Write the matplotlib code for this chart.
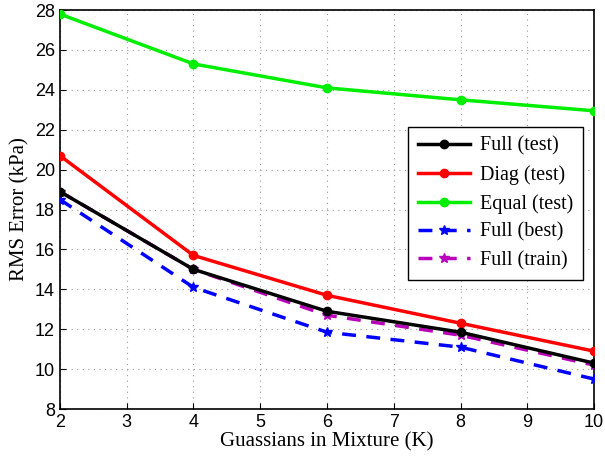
import matplotlib
matplotlib.use("Agg")
import matplotlib.pyplot as plt

K = [2, 4, 6, 8, 10]
full_test = [18.9, 15.0, 12.9, 11.85, 10.3]
diag_test = [20.7, 15.7, 13.7, 12.3, 10.9]
equal_test = [27.8, 25.3, 24.1, 23.5, 22.95]
full_best = [18.5, 14.1, 11.85, 11.1, 9.5]
full_train = [18.9, 15.0, 12.7, 11.7, 10.2]

xticks = [2, 3, 4, 5, 6, 7, 8, 9, 10]
yticks = [8, 10, 12, 14, 16, 18, 20, 22, 24, 26, 28]

fig = plt.figure(figsize=(6.05, 4.57), dpi=100)
ax = fig.add_axes([0.099, 0.105, 0.883, 0.873])

ax.plot(K, full_test, color='black', lw=2.5, marker='o', ms=6, label='Full (test)', zorder=5)
ax.plot(K, diag_test, color='red', lw=2.5, marker='o', ms=6, label='Diag (test)', zorder=4)
ax.plot(K, equal_test, color='#00ee00', lw=2.5, marker='o', ms=6, label='Equal (test)', zorder=4)
ax.plot(K, full_best, color='blue', lw=2.5, ls=(0, (4, 3)), marker='*', ms=7, label='Full (best)', zorder=3)
ax.plot(K, full_train, color='#bb00bb', lw=2.5, ls=(0, (4, 3)), marker='*', ms=7, label='Full (train)', zorder=4)

ax.set_xlim(2, 10)
ax.set_ylim(8, 28)
ax.set_xticks(xticks)
ax.set_yticks(yticks)
ax.tick_params(direction='in', labelsize=13, length=4)
for lab in ax.get_xticklabels() + ax.get_yticklabels():
    lab.set_family('Liberation Sans')
ax.grid(True, ls=(0, (1, 4)), color='#999999', lw=0.8)
for s in ax.spines.values():
    s.set_linewidth(1.2)

ax.set_xlabel('Guassians in Mixture (K)', family='Liberation Serif', fontsize=15, labelpad=1)
ax.set_ylabel('RMS Error (kPa)', family='Liberation Serif', fontsize=15, labelpad=4)

leg = ax.legend(loc='upper left', bbox_to_anchor=(0.632, 0.733), prop={'family': 'Liberation Serif', 'size': 14.5},
                fancybox=False, edgecolor='black', framealpha=1, handlelength=2.6, borderpad=0.5,
                labelspacing=0.45, handletextpad=0.5)
leg.get_frame().set_linewidth(1.0)

fig.savefig('out.png', dpi=100)
